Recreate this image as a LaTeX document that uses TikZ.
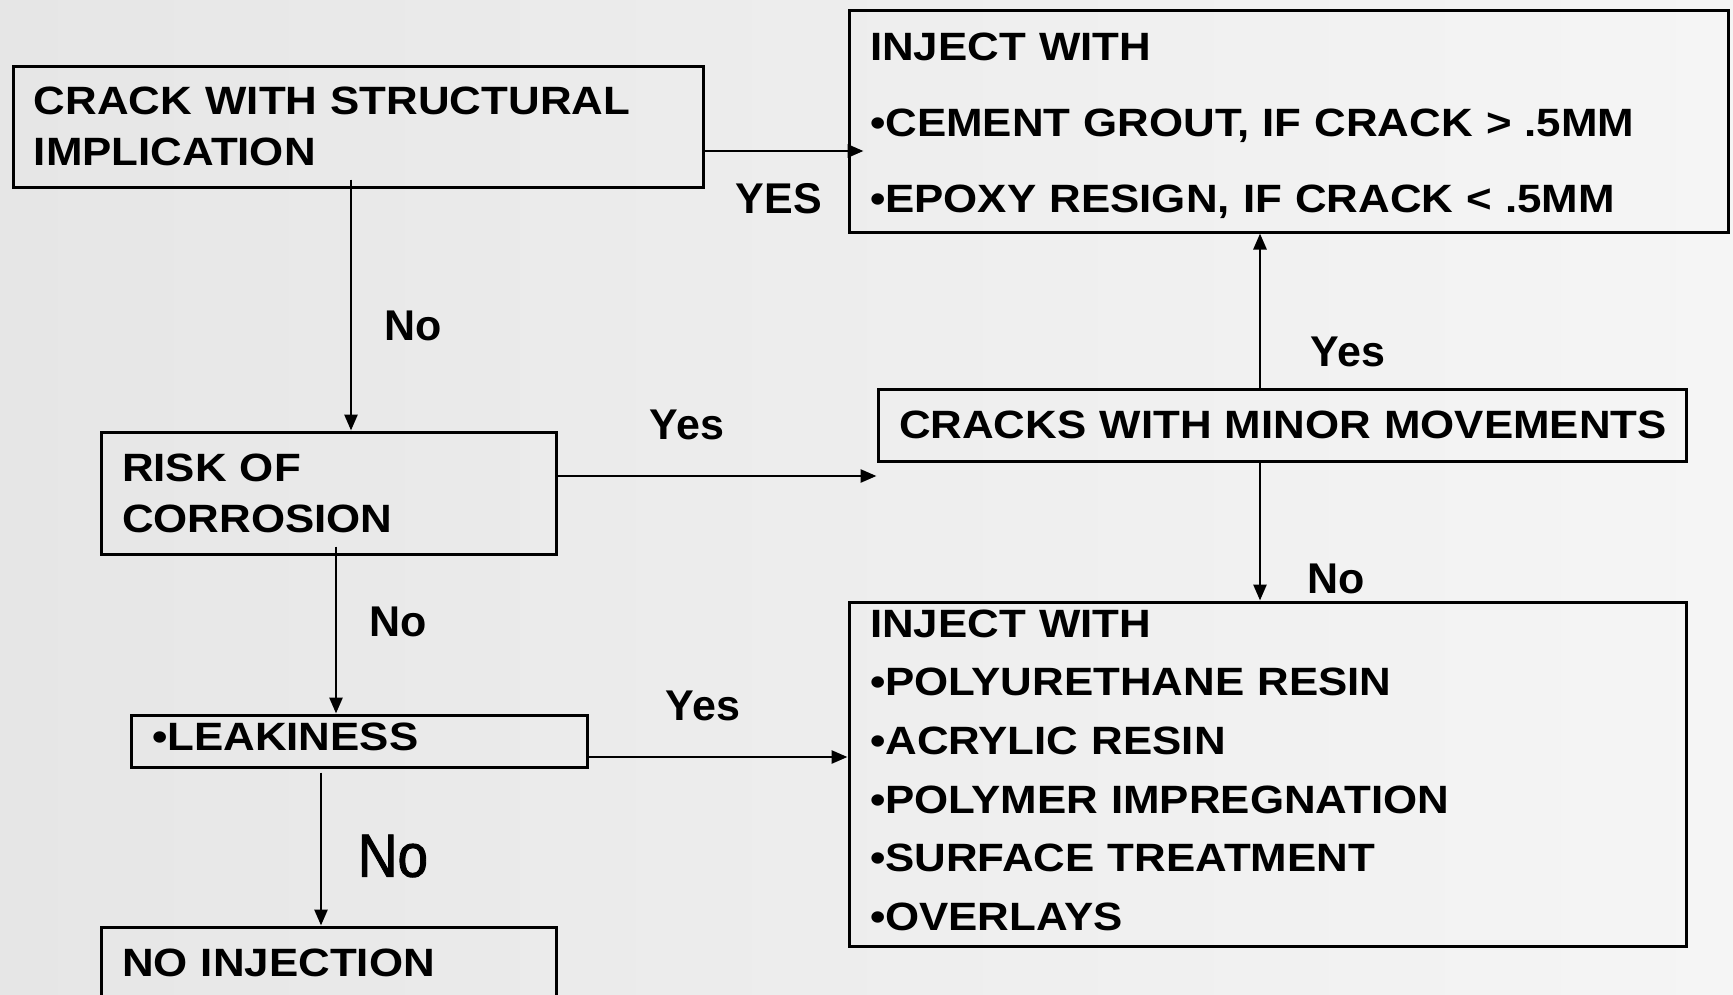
\documentclass[tikz,border=0pt]{standalone}
\usepackage{fontspec}
\setmainfont{Liberation Sans}
\newfontfamily\boxfont{Liberation Sans}[FakeStretch=1.11]
\newfontfamily\handfont{Liberation Sans}[FakeStretch=0.9, FakeBold=1.5]
\usetikzlibrary{arrows.meta}

\definecolor{bgleft}{RGB}{230,230,230}
\definecolor{bgright}{RGB}{245,245,245}

\begin{document}
\begin{tikzpicture}[
    x=1pt, y=-1pt,
    box/.style={rectangle, draw, line width=3pt, inner xsep=21pt, inner ysep=0pt,
                align=left, font=\boxfont\bfseries\fontsize{39.5pt}{#1}\selectfont},
    box/.default=51pt,
    arrow/.style={-{Triangle[length=16pt, width=13pt]}, line width=2.7pt},
    answer/.style={font=\bfseries\fontsize{43pt}{43pt}\selectfont, inner sep=0pt}
]
\useasboundingbox (0,0) rectangle (1733,994);
\shade[left color=bgleft, right color=bgright] (0,0) rectangle (1733,994);

\node[box, minimum width=690pt, minimum height=121pt, text width=648pt] (crack) at (358,126.5)
     {CRACK WITH STRUCTURAL\\IMPLICATION};
\node[box=76pt, minimum width=879pt, minimum height=222pt, text width=837pt] (injgrout) at (1288.5,121)
     {\rule{0pt}{37pt}INJECT WITH\\•CEMENT GROUT, IF CRACK > .5MM\\•EPOXY RESIGN, IF CRACK < .5MM};
\node[box, minimum width=808pt, minimum height=72pt, text width=766pt] (minor) at (1282,425)
     {\mbox{CRACKS WITH MINOR MOVEMENTS}};
\node[box, minimum width=455pt, minimum height=122pt, text width=413pt] (risk) at (328.5,493)
     {RISK OF\\CORROSION};
\node[box, minimum width=456pt, minimum height=52pt, text width=414pt] (leak) at (359,741)
     {•LEAKINESS\rule[-9pt]{0pt}{9pt}};
\node[box=58.6pt, minimum width=837pt, minimum height=344pt, text width=795pt] (injresin) at (1267.5,774)
     {INJECT WITH\\•POLYURETHANE RESIN\\•ACRYLIC RESIN\\•POLYMER IMPREGNATION\\•SURFACE TREATMENT\\•OVERLAYS\rule[-8pt]{0pt}{8pt}};
\node[box, minimum width=455pt, minimum height=72pt, text width=413pt] (noinj) at (328.5,963)
     {NO INJECTION};

\node[answer] (yes1) at (779,199) {YES};
\node[answer] (no1) at (413,326) {No};
\node[answer] (yes2) at (687,425) {Yes};
\node[answer] (yes3) at (1348,352) {Yes};
\node[answer] (no2) at (1336,579) {No};
\node[answer] (no3) at (398,622) {No};
\node[answer] (yes4) at (703,706) {Yes};
\node[font=\handfont\fontsize{61pt}{61pt}\selectfont, inner sep=0pt] (no4) at (393,856) {No};

\draw[arrow] ([yshift=-24.5pt]crack.east) -- ([xshift=16pt, yshift=-24.5pt]crack.east -| injgrout.west);
\draw[arrow] ([xshift=-7pt, yshift=9pt]crack.south) -- ([xshift=-7pt]crack.south |- risk.north);
\draw[arrow] ([yshift=17pt]risk.east) -- ([yshift=17pt]risk.east -| minor.west);
\draw[arrow] ([xshift=-22pt]minor.north) -- ([xshift=-22pt]minor.north |- injgrout.south);
\draw[arrow] ([xshift=-22pt]minor.south) -- ([xshift=-22pt]minor.south |- injresin.north);
\draw[arrow] ([xshift=7.5pt, yshift=9pt]risk.south) -- ([xshift=7.5pt]risk.south |- leak.north);
\draw[arrow] ([yshift=-16pt]leak.east) -- ([yshift=-16pt]leak.east -| injresin.west);
\draw[arrow] ([xshift=-38pt, yshift=-4pt]leak.south) -- ([xshift=-38pt]leak.south |- noinj.north);
\end{tikzpicture}
\end{document}
